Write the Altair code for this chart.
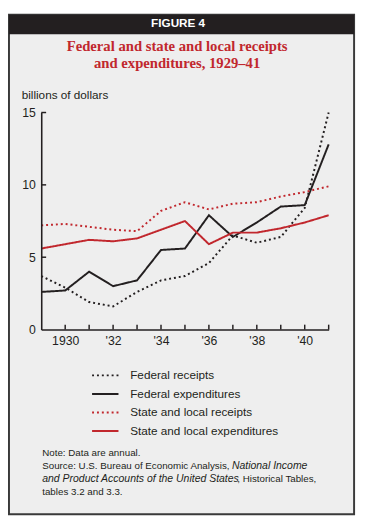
import json
import altair as alt
import pandas as pd

# ---------------- data ----------------
years = list(range(1929, 1942))
federal_receipts = [3.7, 2.9, 1.9, 1.6, 2.6, 3.4, 3.7, 4.6, 6.5, 6.0, 6.4, 8.4, 15.0]
federal_expenditures = [2.6, 2.7, 4.0, 3.0, 3.4, 5.5, 5.6, 7.9, 6.4, 7.4, 8.5, 8.6, 12.8]
state_local_receipts = [7.2, 7.3, 7.1, 6.9, 6.8, 8.2, 8.8, 8.3, 8.7, 8.8, 9.2, 9.5, 9.9]
state_local_expenditures = [5.6, 5.9, 6.2, 6.1, 6.3, 6.9, 7.5, 5.9, 6.7, 6.7, 7.0, 7.4, 7.9]

series_names = ["Federal receipts", "Federal expenditures",
                "State and local receipts", "State and local expenditures"]
series_values = [federal_receipts, federal_expenditures,
                 state_local_receipts, state_local_expenditures]

x_tick_values = [1930, 1932, 1934, 1936, 1938, 1940]
x_tick_labels = ["1930", "'32", "'34", "'36", "'38", "'40"]
x_minor_ticks = list(range(1930, 1942))
y_tick_values = [0, 5, 10, 15]

figure_label = "FIGURE 4"
title_lines = ["Federal and state and local receipts", "and expenditures, 1929\u201341"]
unit_label = "billions of dollars"
note_line = "Note: Data are annual."
source_1a = "Source: U.S. Bureau of Economic Analysis,"
source_1b = "National Income"
source_2a = "and Product Accounts of the United States"
source_2b = ", Historical Tables,"
source_3 = "tables 3.2 and 3.3."

# ---------------- style ----------------
BLACK = "#231f20"
RED = "#c1272d"
BG = "#eeeeee"
SANS = "Liberation Sans"
SERIF = "Liberation Serif"
series_colors = [BLACK, BLACK, RED, RED]
series_dashes = [[2, 3], [1, 0], [2, 3], [1, 0]]

W, H = 294, 222

rows = []
for name, vals in zip(series_names, series_values):
    for yr, v in zip(years, vals):
        rows.append({"year": yr, "value": v, "series": name})
df = pd.DataFrame(rows)

one = pd.DataFrame({"k": [0]})


def txt(s, x, y, size=12, color=BLACK, font=SANS, weight="normal",
        style="normal", align="left"):
    return alt.Chart(pd.DataFrame({"t": [s]})).mark_text(
        font=font, fontSize=size, fontWeight=weight, fontStyle=style,
        color=color, align=align, baseline="alphabetic"
    ).encode(text="t:N", x=alt.value(x), y=alt.value(y))


frame = alt.Chart(one).mark_rect(fill=BG, stroke="#3a3a3a", strokeWidth=2).encode(
    x=alt.value(-33), x2=alt.value(320), y=alt.value(-100), y2=alt.value(411))
header = alt.Chart(one).mark_rect(fill=BLACK).encode(
    x=alt.value(-33), x2=alt.value(320), y=alt.value(-100), y2=alt.value(-80))

texts = [
    txt(figure_label, 140, -87.5, size=12, color="white", weight="bold", align="center"),
    txt(title_lines[0], 139, -62.5, size=15, color=RED, font=SERIF, weight="bold", align="center"),
    txt(title_lines[1], 139, -46, size=15, color=RED, font=SERIF, weight="bold", align="center"),
    txt(unit_label, -20, -14, size=12),
    txt(note_line, 1, 351, size=10),
    txt(source_1a, 1, 365, size=10),
    txt(source_1b, 195, 365, size=10.7, style="italic"),
    txt(source_2a, 1, 378, size=10.7, style="italic"),
    txt(source_2b, 200.5, 378, size=10),
    txt(source_3, 1, 391, size=10),
]

xscale = alt.Scale(domain=[1929, 1941], nice=False, zero=False)
yscale = alt.Scale(domain=[0, 15], nice=False)

label_expr = json.dumps(x_tick_labels) + "[(datum.value - 1930) / 2]"
x_axis = alt.Axis(values=x_tick_values, labelExpr=label_expr, title=None,
                  ticks=False, grid=False, domainColor=BLACK, domainWidth=1.6,
                  labelFont=SANS, labelFontSize=12.5, labelColor=BLACK,
                  labelPadding=5, zindex=2)
y_axis = alt.Axis(values=y_tick_values, title=None, ticks=False, grid=False,
                  domainColor=BLACK, domainWidth=1.6, labelFont=SANS,
                  labelFontSize=12.5, labelColor=BLACK, labelPadding=6, zindex=2)

x_ticks = alt.Chart(pd.DataFrame({"year": x_minor_ticks})).mark_rule(
    color=BLACK, strokeWidth=1.5).encode(
    x=alt.X("year:Q", scale=xscale, axis=x_axis),
    y=alt.value(H), y2=alt.value(H - 5))
y_ticks = alt.Chart(pd.DataFrame({"value": y_tick_values[1:]})).mark_rule(
    color=BLACK, strokeWidth=1.5).encode(
    y=alt.Y("value:Q", scale=yscale, axis=y_axis),
    x=alt.value(0), x2=alt.value(5))

lines = alt.Chart(df).mark_line(strokeWidth=2, strokeCap="butt").encode(
    x=alt.X("year:Q", scale=xscale, axis=x_axis),
    y=alt.Y("value:Q", scale=yscale, axis=y_axis),
    color=alt.Color("series:N", scale=alt.Scale(domain=series_names, range=series_colors),
                    legend=alt.Legend(title=None)),
    strokeDash=alt.StrokeDash("series:N",
                              scale=alt.Scale(domain=series_names, range=series_dashes),
                              legend=alt.Legend(title=None)),
    order=alt.Order("year:Q"),
)

chart = alt.layer(frame, header, *texts, x_ticks, y_ticks, lines).properties(
    width=W, height=H, autosize="none",
    padding={"left": 34, "top": 101, "right": 30, "bottom": 194},
    background="white",
).configure_view(stroke=None).configure_legend(
    orient="none", legendX=51, legendY=259.5, padding=0,
    symbolType="stroke", symbolSize=729, symbolStrokeWidth=2,
    labelFont=SANS, labelFontSize=12, labelColor=BLACK, labelOffset=11,
    rowPadding=0, clipHeight=18.7,
)

chart.save("out.html", embed_options={"renderer": "svg", "actions": False})
